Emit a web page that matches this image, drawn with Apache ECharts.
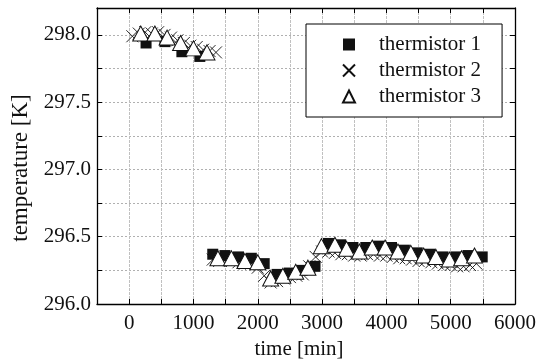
<!DOCTYPE html>
<html><head><meta charset="utf-8">
<script src="https://cdn.jsdelivr.net/npm/echarts@6/dist/echarts.min.js"></script>
<style>html,body{margin:0;padding:0;background:#fff}#c{width:539px;height:362px}</style>
</head><body><div id="c"></div>
<script>
// thermistor 1 (filled squares)
const t1Time = [263, 557, 820, 1099, 1300, 1490, 1700, 1900, 2100, 2300, 2490, 2690, 2890, 3100, 3290, 3480, 3680, 3880, 4080, 4280, 4480, 4680, 4880, 5080, 5270, 5490];
const t1Temp = [297.94, 297.95, 297.875, 297.84, 296.37, 296.36, 296.35, 296.34, 296.30, 296.22, 296.23, 296.25, 296.28, 296.45, 296.44, 296.42, 296.42, 296.43, 296.42, 296.40, 296.38, 296.37, 296.35, 296.35, 296.36, 296.35];
// thermistor 2 (crosses)
const t2Time = [50, 150, 250, 350, 450, 550, 650, 750, 850, 950, 1050, 1150, 1250, 1350,
  1300, 1400, 1500, 1600, 1700, 1800, 1900, 2000, 2100, 2200, 2300, 2400, 2500, 2600, 2700, 2800, 2900, 3000, 3100, 3200, 3300, 3400, 3500, 3600, 3700, 3800, 3900, 4000, 4100, 4200, 4300, 4400, 4500, 4600, 4700, 4800, 4900, 5000, 5100, 5200, 5300, 5400];
const t2Temp = [297.99, 298.01, 298.02, 298.01, 298.02, 298.00, 297.98, 297.96, 297.94, 297.92, 297.91, 297.89, 297.88, 297.87,
  296.33, 296.32, 296.33, 296.32, 296.31, 296.30, 296.30, 296.27, 296.21, 296.16, 296.17, 296.19, 296.20, 296.21, 296.22, 296.28, 296.35, 296.39, 296.39, 296.38, 296.37, 296.37, 296.36, 296.36, 296.37, 296.37, 296.36, 296.36, 296.35, 296.34, 296.34, 296.33, 296.32, 296.32, 296.31, 296.30, 296.29, 296.29, 296.28, 296.28, 296.29, 296.30];
// thermistor 3 (open triangles)
const t3Time = [180, 400, 590, 800, 1000, 1210, 1380, 1590, 1800, 2000, 2200, 2390, 2590, 2780, 2990, 3200, 3380, 3580, 3780, 3980, 4180, 4380, 4580, 4770, 4980, 5170, 5370];
const t3Temp = [298.01, 298.01, 297.98, 297.94, 297.90, 297.87, 296.34, 296.34, 296.32, 296.31, 296.19, 296.21, 296.24, 296.27, 296.43, 296.44, 296.41, 296.39, 296.42, 296.42, 296.39, 296.38, 296.36, 296.35, 296.33, 296.34, 296.36];
const seriesNames = ['thermistor 1', 'thermistor 2', 'thermistor 3'];
const xTickLabels = ['0', '1000', '2000', '3000', '4000', '5000', '6000'];
const yTickLabels = ['296.0', '296.5', '297.0', '297.5', '298.0'];
const xTitle = 'time [min]';
const yTitle = 'temperature [K]';

const pair = (a, b) => a.map((v, i) => [v, b[i]]);
const FONT = 'Liberation Serif';
const crossPath = 'path://M0,0L10,10M10,0L0,10';

const chart = echarts.init(document.getElementById('c'), null, {renderer: 'canvas'});
const xBase = {
  type: 'value', min: -500, max: 6000, interval: 500,
  axisLine: {show: true, onZero: false, lineStyle: {color: '#000', width: 1.3}},
  axisTick: {show: true, inside: true, length: 5, lineStyle: {color: '#000'}},
  splitLine: {show: false}
};
const yBase = {
  type: 'value', min: 296, max: 298.2, interval: 0.25,
  axisLine: {show: true, onZero: false, lineStyle: {color: '#000', width: 1.3}},
  axisTick: {show: true, inside: true, length: 5, lineStyle: {color: '#000'}},
  splitLine: {show: false}
};
chart.setOption({
  animation: false,
  backgroundColor: '#fff',
  grid: {left: 97, right: 21, top: 8, bottom: 58},
  xAxis: [
    Object.assign({}, xBase, {
      position: 'bottom',
      axisLabel: {
        color: '#111', fontFamily: FONT, fontSize: 21, margin: 9,
        formatter: v => { const s = String(Math.round(v)); return xTickLabels.includes(s) ? s : ''; }
      },
      splitLine: {show: true, lineStyle: {color: '#c0c0c0', width: 1, type: [3, 1]}}
    }),
    Object.assign({}, xBase, {position: 'top', axisLabel: {show: false}})
  ],
  yAxis: [
    Object.assign({}, yBase, {
      position: 'left',
      axisLabel: {
        color: '#111', fontFamily: FONT, fontSize: 21, margin: 6,
        formatter: v => { const s = v.toFixed(1); return (Math.abs(v * 2 - Math.round(v * 2)) < 1e-6 && yTickLabels.includes(s)) ? s : ''; }
      },
      splitLine: {show: true, lineStyle: {color: '#b0b0b0', width: 1, type: [2, 2]}}
    }),
    Object.assign({}, yBase, {position: 'right', axisLabel: {show: false}})
  ],
  legend: {
    orient: 'vertical', left: 306, top: 24,
    data: seriesNames,
    padding: [10, 21, 10, 36],
    itemGap: 5, itemWidth: 12, itemHeight: 12,
    backgroundColor: '#fff', borderColor: '#000', borderWidth: 1,
    textStyle: {fontFamily: FONT, fontSize: 21, color: '#111', padding: [0, 0, 0, 19]}
  },
  graphic: [
    {type: 'text', x: 299, y: 349, style: {text: xTitle, font: '21px "Liberation Serif"', fill: '#111', align: 'center', verticalAlign: 'middle'}},
    {type: 'text', x: 21, y: 168, rotation: Math.PI / 2, style: {text: yTitle, font: '23px "Liberation Serif"', fill: '#111', align: 'center', verticalAlign: 'middle'}}
  ],
  series: [
    {
      name: seriesNames[0], type: 'scatter', data: pair(t1Time, t1Temp), z: 2,
      symbol: 'rect', symbolSize: 11,
      itemStyle: {color: '#111', borderColor: '#111', borderWidth: 0, opacity: 1}
    },
    {
      name: seriesNames[1], type: 'scatter', data: pair(t2Time, t2Temp), z: 3,
      symbol: crossPath, symbolSize: 12,
      itemStyle: {color: 'rgba(0,0,0,0)', borderColor: '#111', borderWidth: 0.9, opacity: 1}
    },
    {
      name: seriesNames[2], type: 'scatter', data: pair(t3Time, t3Temp), z: 4,
      symbol: 'triangle', symbolSize: [16, 15],
      itemStyle: {color: '#fff', borderColor: '#111', borderWidth: 1, opacity: 1}
    }
  ]
});
</script></body></html>
